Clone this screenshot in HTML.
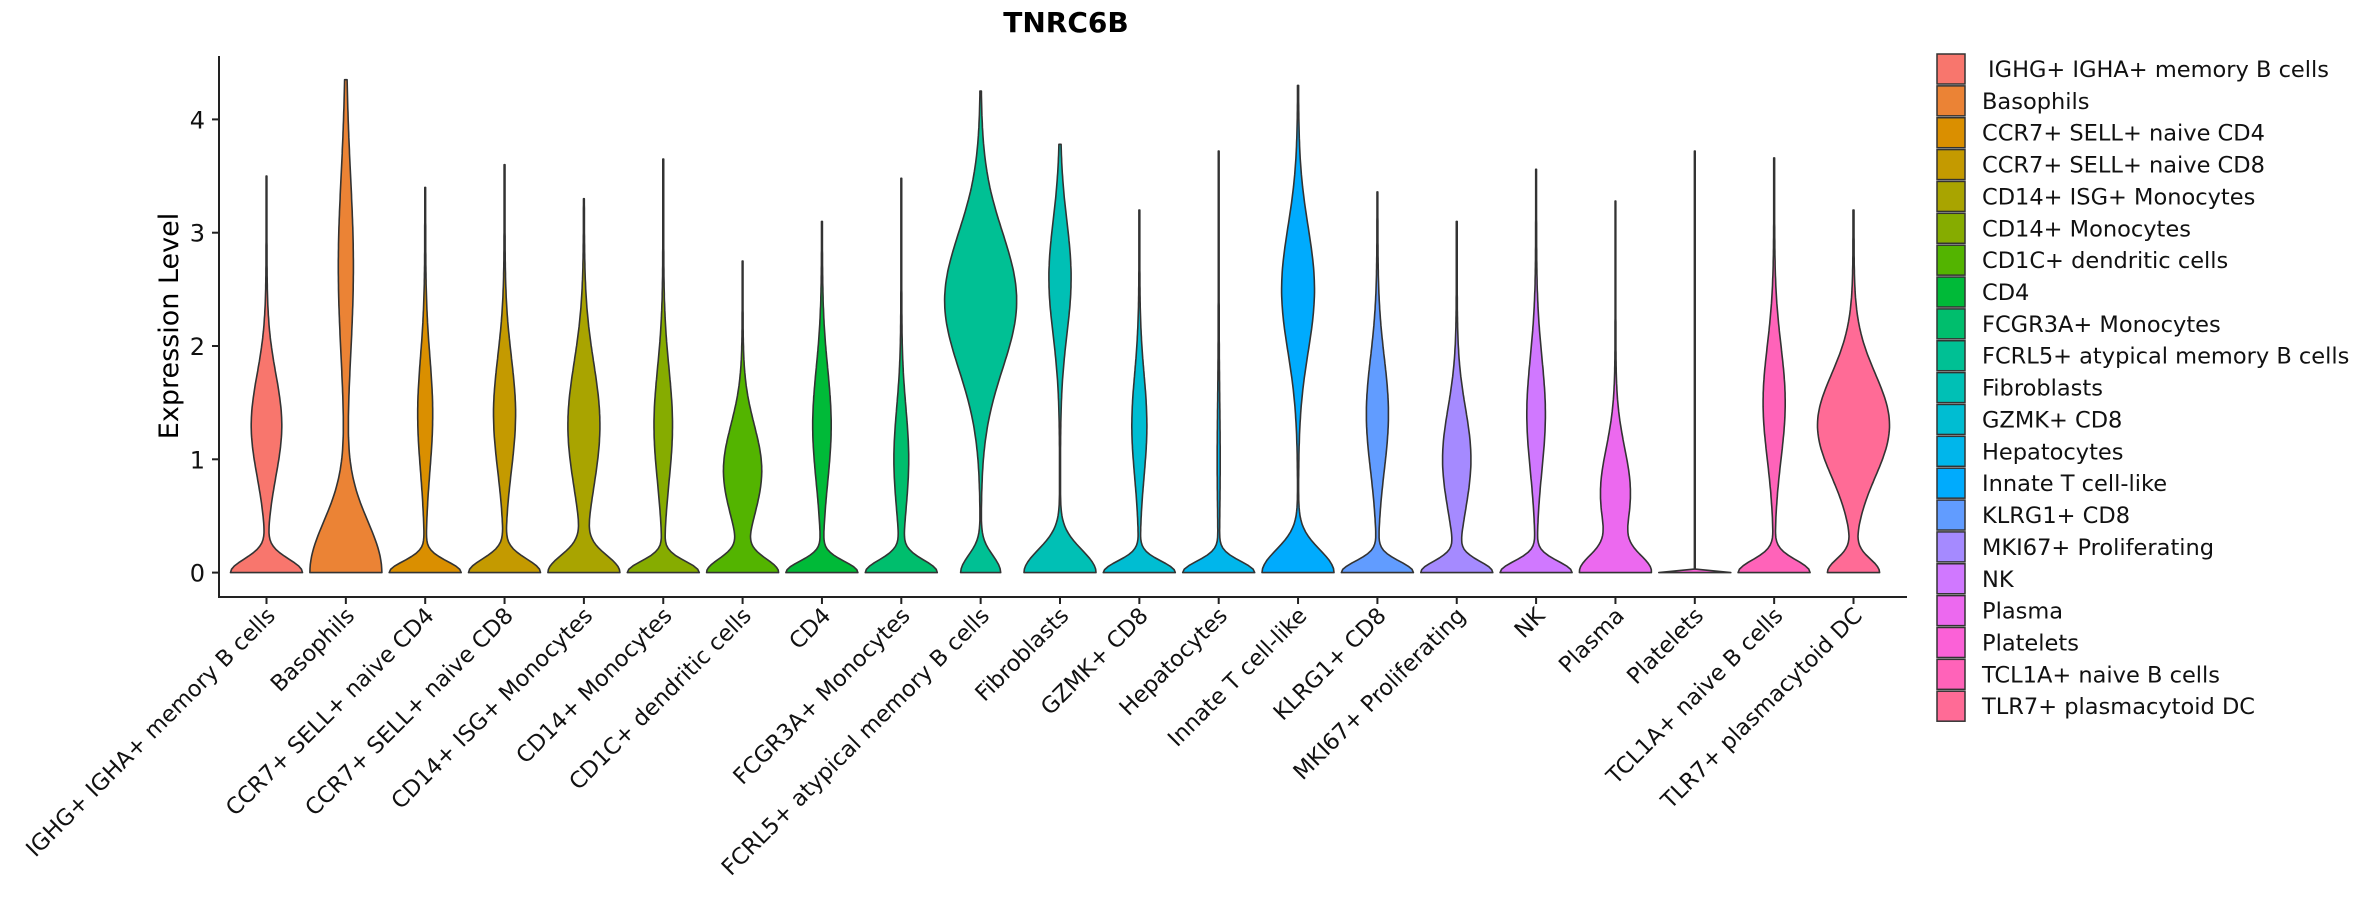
<!DOCTYPE html>
<html><head><meta charset="utf-8">
<style>
html,body{margin:0;padding:0;background:#fff;}
svg{display:block;font-family:"DejaVu Sans","Liberation Sans",sans-serif;}
</style></head>
<body>
<svg id="chart" width="2362" height="900" viewBox="0 0 2362 900" xmlns="http://www.w3.org/2000/svg">
<text x="1066" y="32" text-anchor="middle" font-size="28" font-weight="bold" fill="#000">TNRC6B</text>
<text transform="translate(178,326) rotate(-90)" text-anchor="middle" font-size="27" fill="#000">Expression Level</text>
<g id="plot"></g>
<g id="legend"></g>
</svg>
<script>
const categories = ["IGHG+ IGHA+ memory B cells","Basophils","CCR7+ SELL+ naive CD4","CCR7+ SELL+ naive CD8","CD14+ ISG+ Monocytes","CD14+ Monocytes","CD1C+ dendritic cells","CD4","FCGR3A+ Monocytes","FCRL5+ atypical memory B cells","Fibroblasts","GZMK+ CD8","Hepatocytes","Innate T cell-like","KLRG1+ CD8","MKI67+ Proliferating","NK","Plasma","Platelets","TCL1A+ naive B cells","TLR7+ plasmacytoid DC"];
const maxVals   = [3.5,4.35,3.4,3.6,3.3,3.65,2.75,3.1,3.48,4.25,3.78,3.2,3.72,4.3,3.36,3.1,3.56,3.28,3.72,3.66,3.2];
const zeroPeak  = [1.0,1.0,1.0,1.0,1.0,1.0,1.0,1.0,1.0,0.55,1.0,1.0,1.0,1.0,1.0,1.0,1.0,1.0,1.0,1.0,0.6];
const zeroSpread= [0.12,0.45,0.1,0.12,0.15,0.1,0.12,0.1,0.11,0.15,0.2,0.1,0.1,0.2,0.1,0.1,0.1,0.15,0.004,0.11,0.12];
const modeMean  = [1.3,2.7,1.4,1.4,1.3,1.3,0.9,1.3,1.0,2.4,2.6,1.3,1.0,2.5,1.4,1.0,1.4,0.7,1.0,1.5,1.3];
const modeWidth = [0.42,0.2,0.2,0.3,0.45,0.25,0.55,0.25,0.2,1.0,0.3,0.2,0.03,0.45,0.3,0.4,0.25,0.45,0.0,0.3,0.85];
const modeSpread= [0.45,0.8,0.5,0.5,0.55,0.5,0.4,0.5,0.45,0.6,0.5,0.45,0.5,0.55,0.5,0.45,0.5,0.4,0.5,0.5,0.45];
const yTicks = [0,1,2,3,4];

const NS="http://www.w3.org/2000/svg";
const plot=document.getElementById('plot');
const legend=document.getElementById('legend');
const X0=266.5, DX=79.35, Y0=572.6, YS=113.3, HW=36, AX=597;
const xPos=i=>X0+i*DX;
const yPos=v=>Y0-v*YS;
function mk(tag,attrs,parent){const e=document.createElementNS(NS,tag);for(const k in attrs)e.setAttribute(k,attrs[k]);parent.appendChild(e);return e;}
function hcl(h){
  const L=65,C=100,hr=h*Math.PI/180,u=C*Math.cos(hr),v=C*Math.sin(hr);
  const Xn=95.047,Yn=100,Zn=108.883,den=Xn+15*Yn+3*Zn,un=4*Xn/den,vn=9*Yn/den;
  const Y=Yn*Math.pow((L+16)/116,3),up=u/(13*L)+un,vp=v/(13*L)+vn;
  const X=Y*9*up/(4*vp),Z=Y*(12-3*up-20*vp)/(4*vp);
  const x=X/100,y=Y/100,z=Z/100;
  let r=3.2406*x-1.5372*y-0.4986*z,g=-0.9689*x+1.8758*y+0.0415*z,b=0.0557*x-0.2040*y+1.0570*z;
  const gm=c=>{c=c<=0.0031308?12.92*c:1.055*Math.pow(c,1/2.4)-0.055;return Math.round(Math.max(0,Math.min(1,c))*255);};
  return `rgb(${gm(r)},${gm(g)},${gm(b)})`;
}
const n=categories.length;
const colors=categories.map((c,i)=>hcl(15+360*i/n));

const ya=mk('line',{x1:219,y1:56,x2:219,y2:598,stroke:'#222','stroke-width':2},plot);

const xa=mk('line',{x1:218,y1:AX,x2:1907,y2:AX,stroke:'#222','stroke-width':2},plot);

yTicks.forEach(t=>{
  const tk=mk('line',{x1:212,y1:yPos(t),x2:219,y2:yPos(t),stroke:'#222','stroke-width':2},plot);
  
  const lb=mk('text',{x:205,y:yPos(t)+9,'text-anchor':'end','font-size':24,fill:'#111'},plot);
  
  lb.textContent=t;
});
categories.forEach((c,i)=>{
  const x=xPos(i);
  const N=120,mx=maxVals[i];
  const f=y=>zeroPeak[i]*Math.exp(-0.5*Math.pow(y/zeroSpread[i],2))+modeWidth[i]*Math.exp(-0.5*Math.pow((y-modeMean[i])/modeSpread[i],2))+0.012;
  let fm=0;const ys=[],ws=[];
  for(let k=0;k<=N;k++){const y=mx*k/N;ys.push(y);const w=f(y);ws.push(w);if(w>fm)fm=w;}
  let pr=[],pl=[];
  for(let k=0;k<=N;k++){const w=ws[k]/fm*HW;pr.push(`${(x+w).toFixed(1)},${yPos(ys[k]).toFixed(1)}`);pl.unshift(`${(x-w).toFixed(1)},${yPos(ys[k]).toFixed(1)}`);}
  const p=mk('path',{d:'M'+pr.join('L')+'L'+pl.join('L')+'Z',fill:colors[i],stroke:'#333','stroke-width':1.6,'stroke-linejoin':'round'},plot);
  
  const tk=mk('line',{x1:x,y1:AX,x2:x,y2:AX+7,stroke:'#222','stroke-width':2},plot);
  
  const lb=mk('text',{transform:`translate(${x+10},${AX+20}) rotate(-45)`,'text-anchor':'end','font-size':22.5,fill:'#111'},plot);
  
  lb.textContent=c;
  const ly=54+i*31.86;
  const r=mk('rect',{x:1937,y:ly,width:28,height:30,fill:colors[i],stroke:'#333','stroke-width':1.5},legend);
  
  const lt=mk('text',{x:i===0?1988:1982,y:ly+23,'font-size':22.5,fill:'#111'},legend);
  
  lt.textContent=c;
});
</script>
</body></html>
